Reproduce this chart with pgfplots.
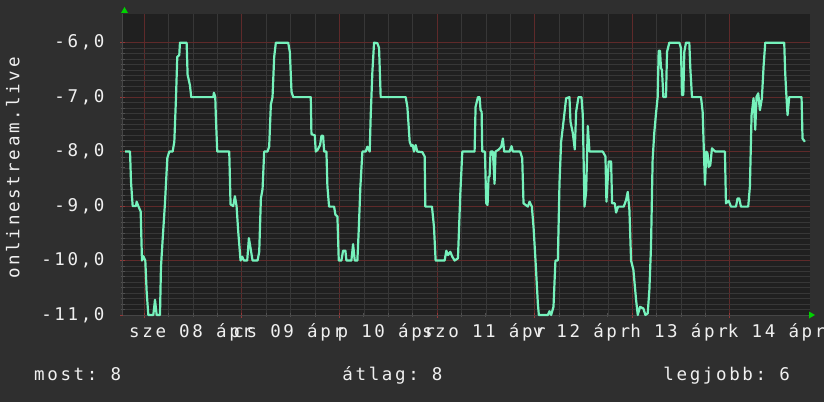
\documentclass[border=0pt]{standalone}
\usepackage{fontspec}
\setmonofont[LetterSpace=15]{DejaVu Sans Mono}
\usepackage{pgfplots}
\pgfplotsset{compat=1.18}
\definecolor{bgout}{RGB}{47,47,47}
\definecolor{canvas}{RGB}{32,32,32}
\definecolor{gridminor}{RGB}{55,55,55}
\definecolor{gridmajor}{RGB}{95,42,42}
\definecolor{tickmajor}{RGB}{150,56,56}
\definecolor{tickminor}{RGB}{80,80,80}
\definecolor{axisgray}{RGB}{70,70,70}
\definecolor{fg}{RGB}{240,240,240}
\definecolor{mint}{RGB}{118,242,188}
\definecolor{arrowgreen}{RGB}{0,210,0}
\begin{document}
\begin{tikzpicture}[x=1pt,y=1pt,font=\ttfamily\fontsize{17.5}{20}\selectfont]
\useasboundingbox (0,0) rectangle (824,402);
\fill[bgout] (0,0) rectangle (824,402);
\begin{axis}[
  at={(122.7pt,87pt)}, anchor=south west, scale only axis,
  width=687.3pt, height=301pt,
  xmin=-5.31, xmax=163.7, ymin=-11, ymax=-5.474,
  clip=false,
  axis background/.style={fill=canvas},
  axis x line*=bottom, axis y line*=left,
  axis line style={axisgray, line width=1pt},
  xtick={0,24,48,72,96,120,144},
  xticklabels={,,,,,,},
  minor x tick num=3,
  ytick={-11,-10,-9,-8,-7,-6},
  yticklabels={{-11,0},{-10,0},{-9,0},{-8,0},{-7,0},{-6,0}},
  minor y tick num=9,
  grid=both,
  major grid style={gridmajor, line width=0.9pt},
  minor grid style={gridminor, line width=0.75pt},
  tick align=center,
  major tick length=5pt, minor tick length=4pt,
  every major tick/.append style={tickmajor, line width=1pt},
  every minor tick/.append style={tickminor, line width=0.9pt},
  extra x ticks={12,36,60,84,108,132,156},
  extra x tick labels={sze 08 ápr,cs 09 ápr,p 10 ápr,szo 11 ápr,v 12 ápr,h 13 ápr,k 14 ápr},
  extra x tick style={grid=none, major tick length=0pt},
  tick label style={fg, font=\ttfamily\fontsize{17.5}{20}\selectfont},
  xticklabel style={anchor=base, inner sep=0pt, yshift=-22.7pt, xshift=-2pt},
  yticklabel style={anchor=east, inner sep=0pt, xshift=-15.5pt},
]
\addplot[mint, line width=2.2pt, line join=round] coordinates {
(-4.74,-8.0) (-3.51,-8.0) (-3.27,-8.55) (-2.86,-9.0) (-2.04,-9.0) (-1.88,-8.92) (-1.47,-9.0) (-0.89,-9.1) (-0.57,-10.0) (-0.24,-9.92) (0.25,-10.0) (0.58,-10.57) (0.99,-11.0) (2.22,-11.0) (2.63,-10.72) (3.04,-11.0) (3.86,-11.0) (4.10,-10.12) (4.51,-9.62) (5.08,-8.95) (5.66,-8.12) (6.15,-8.0) (6.97,-8.0) (7.38,-7.82) (7.79,-7.02) (8.11,-6.26) (8.60,-6.23) (8.77,-6.0) (10.41,-6.0) (10.65,-6.59) (11.22,-6.78) (11.55,-7.0) (16.96,-7.0) (17.12,-6.92) (17.45,-7.0) (17.61,-7.39) (17.94,-8.0) (20.89,-8.0) (21.21,-8.97) (21.87,-9.0) (22.28,-8.82) (22.69,-9.0) (23.10,-9.47) (23.67,-10.0) (24.08,-9.93) (24.49,-10.0) (25.31,-10.0) (25.72,-9.59) (26.21,-9.81) (26.62,-10.0) (27.85,-10.0) (28.26,-9.84) (28.67,-8.86) (29.08,-8.69) (29.48,-8.0) (30.30,-8.0) (30.71,-7.91) (31.12,-7.14) (31.53,-7.0) (31.94,-6.26) (32.35,-6.0) (35.38,-6.0) (35.79,-6.17) (36.20,-6.9) (36.61,-7.0)
(40.94,-7.0) (41.1,-7.68) (41.92,-7.7) (42.17,-8.0) (42.6,-7.97) (43.23,-7.88) (43.56,-7.71) (43.97,-7.71) (44.22,-8.0) (44.79,-8.0) (45.03,-8.64) (45.44,-9.01) (46.67,-9.01) (47.0,-9.16) (47.49,-9.19) (47.82,-10.0) (48.47,-10.0) (48.88,-9.82) (49.45,-9.82) (49.7,-10.0) (50.93,-10.0) (51.34,-9.7) (51.75,-10.0) (52.4,-10.0) (52.73,-9.44) (53.14,-8.64) (53.63,-8.0) (54.45,-8.0) (54.86,-7.91) (55.43,-8.0) (55.68,-7.33) (56.09,-6.53) (56.5,-6.0) (57.32,-6.01) (57.73,-6.1) (58.13,-7.0) (64.28,-7.0) (64.69,-7.18) (65.26,-7.82) (65.67,-7.9) (66.0,-7.88) (66.32,-8.0) (66.73,-7.88) (67.14,-8.0) (68.37,-8.01) (68.94,-8.09) (69.11,-9.01) (70.74,-9.01) (71.23,-9.38) (71.64,-10.0) (73.85,-10.0) (74.27,-9.82) (74.68,-9.9) (75.25,-9.84) (75.74,-9.93) (76.31,-10.0) (77.13,-9.96) (77.71,-8.77) (78.2,-8.0)
(81.22,-8.0) (81.46,-7.18) (82.04,-7.0) (82.45,-7.0) (82.69,-7.24) (82.95,-7.27) (83.1,-8.0) (83.76,-8.0) (84.08,-8.95) (84.41,-8.98) (84.66,-8.46) (84.9,-8.46) (85.15,-8.0) (85.72,-8.0) (86.13,-8.59) (86.38,-8.0) (87.2,-7.96) (87.77,-7.91) (88.18,-7.76) (88.5,-8.0) (89.82,-8.0) (90.31,-7.9) (90.63,-8.0) (92.43,-8.0) (92.93,-8.12) (93.25,-8.95) (94.32,-9.01) (94.73,-8.92) (95.3,-9.01) (95.71,-9.38) (96.2,-10.0) (96.78,-10.79) (97.02,-11.0) (99.23,-11.0) (99.64,-10.93) (100.05,-11.0) (100.62,-10.85) (101.1,-10.0) (101.69,-10.0) (102.1,-8.58) (102.5,-7.82) (103.08,-7.45) (103.73,-7.02) (104.55,-7.0) (104.8,-7.45) (105.37,-7.66) (105.86,-7.96) (106.19,-7.27) (106.76,-7.0) (107.5,-7.0) (107.83,-7.33) (108.24,-9.01) (108.65,-8.74) (109.06,-7.53) (109.47,-8.0) (112.74,-8.0) (113.4,-8.09) (113.64,-8.92) (114.21,-8.18) (114.79,-8.18) (115.03,-8.95) (115.69,-8.95) (116.02,-9.12) (116.51,-9.01) (117.9,-9.01) (118.47,-8.89) (118.88,-8.74) (119.29,-9.07) (119.7,-10.0) (120.27,-10.17) (120.93,-10.72) (121.34,-11.0) (121.91,-10.85) (122.73,-10.88) (123.22,-11.0) (123.79,-10.97)
(124.2,-10.54) (124.6,-9.75) (125.0,-8.15) (125.4,-7.66) (125.83,-7.3) (126.24,-7.0) (126.49,-6.15) (126.82,-6.15) (127.06,-6.47) (127.3,-6.5) (127.64,-7.0) (128.29,-7.0) (128.54,-6.17) (129.11,-6.0) (131.57,-6.0) (131.97,-6.1) (132.22,-6.96) (132.55,-6.96) (132.79,-6.17) (133.2,-6.0) (134.02,-6.0) (134.27,-6.47) (134.68,-7.0) (136.89,-7.0) (137.3,-7.27) (137.62,-8.03) (137.87,-8.61) (138.2,-8.0) (138.5,-8.03) (138.77,-8.28) (139.18,-8.25) (139.59,-7.94) (140.41,-8.0) (142.78,-8.0) (143.03,-8.95) (143.68,-8.9) (144.26,-9.01) (145.49,-9.01) (145.89,-8.86) (146.3,-8.86) (146.71,-9.01) (148.51,-9.01) (148.92,-8.64) (149.33,-7.33) (149.82,-7.02) (150.23,-7.6) (150.56,-6.99) (150.97,-6.93) (151.38,-7.24) (151.87,-7.02) (152.28,-6.44) (152.69,-6.0) (157.36,-6.0) (157.6,-6.56) (157.93,-7.02) (158.18,-7.33) (158.59,-7.0) (161.62,-7.0) (161.86,-7.76) (162.44,-7.82)
};
\end{axis}
\fill[arrowgreen] (121,389) -- (128,389) -- (124.5,395) -- cycle;
\fill[arrowgreen] (809,90.5) -- (809,83.5) -- (815,87) -- cycle;
\node[rotate=90, anchor=base, fg, inner sep=0pt] at (19.5,234) {onlinestream.live};
\node[anchor=base west, fg, inner sep=0pt] at (34,21.3) {most: 8};
\node[anchor=base, fg, inner sep=0pt] at (392.5,21.3) {átlag: 8};
\node[anchor=base east, fg, inner sep=0pt] at (790,21.3) {legjobb: 6};
\end{tikzpicture}
\end{document}
